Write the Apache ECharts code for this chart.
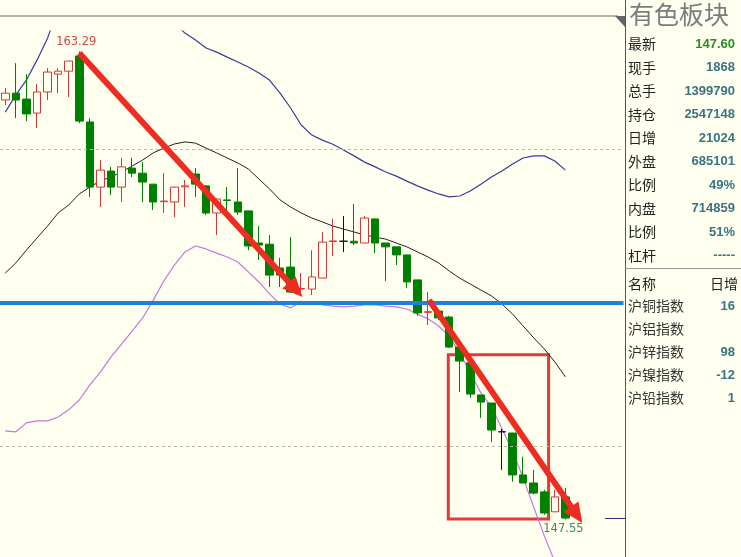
<!DOCTYPE html>
<html><head><meta charset="utf-8">
<script src="https://cdn.jsdelivr.net/npm/echarts@6/dist/echarts.min.js"></script>
<style>html,body{margin:0;padding:0;background:#FFFFF0;}#c{width:741px;height:557px;}</style>
</head><body><div id="c"></div>
<script>
// ---- candles: [open, close, lowest, highest]
const candles = [
[161.66,161.89,161.49,162.06],[161.89,161.66,161.05,162.90],[161.69,161.19,160.95,162.53],[161.22,161.93,160.72,162.20],
[161.93,162.60,161.66,162.73],[162.53,162.63,161.89,162.73],[162.63,162.97,161.76,162.97],[163.14,160.95,160.88,163.29],
[160.92,158.73,158.40,161.05],[158.73,159.30,158.06,159.64],[159.27,158.73,158.46,159.41],[158.73,159.41,158.23,159.71],
[159.37,159.20,159.07,159.71],[159.20,158.90,158.23,159.57],[158.83,158.23,157.96,158.83],[158.24,158.26,157.86,159.20],
[158.23,158.73,157.72,158.75],[158.74,158.77,158.06,158.97],[159.17,158.83,158.40,159.37],[158.77,157.86,157.79,158.80],
[157.86,158.33,157.12,158.33],[158.30,158.28,157.79,158.73],[158.23,157.89,157.79,159.37],[157.93,156.75,156.61,157.93],
[156.85,156.78,156.28,157.42],[156.81,155.77,155.37,157.12],[156.01,155.77,155.37,156.35],[156.04,155.20,155.17,157.05],
[155.30,155.32,155.10,155.84],[155.30,155.71,155.10,156.61],[155.67,156.88,155.67,157.22],[156.90,156.92,156.41,157.66],
[156.91,156.91,156.55,157.76],[156.91,156.85,156.78,158.16],[156.85,157.69,156.85,157.76],[157.66,156.85,156.51,157.66],
[156.85,156.72,155.57,156.85],[156.72,156.45,156.11,156.72],[156.45,155.54,155.34,156.45],[155.61,154.50,154.40,155.61],
[154.52,154.54,154.09,155.20],[154.56,154.33,154.26,154.63],[154.36,153.35,153.32,154.40],[153.35,152.88,151.84,153.35],
[152.82,151.77,151.64,152.85],[151.74,151.50,150.97,151.74],[151.47,150.56,150.16,151.47],[150.50,150.50,149.22,150.60],
[150.46,149.05,148.82,150.46],[149.05,148.78,148.78,149.66],[148.78,148.44,148.40,149.22],[148.48,147.77,147.71,148.55],
[147.81,148.31,147.81,148.55],[148.31,147.60,147.55,148.61]
];
// ---- Bollinger bands
const bollUpper = [161.25,161.83,162.33,163.00,163.74,164.72,165.02,165.42,165.39,165.36,165.12,165.02,164.99,164.95,164.82,164.52,164.25,163.91,163.68,163.41,163.27,163.10,162.94,162.77,162.57,162.33,161.89,161.39,160.82,160.48,160.31,160.17,159.98,159.78,159.57,159.41,159.24,159.10,158.93,158.77,158.63,158.50,158.40,158.43,158.60,158.83,159.07,159.27,159.51,159.71,159.78,159.78,159.61,159.30];
const bollMid = [155.84,156.18,156.61,157.02,157.42,157.86,158.13,158.50,158.73,158.94,159.07,159.24,159.44,159.64,159.88,160.04,160.18,160.25,160.21,160.04,159.88,159.71,159.54,159.34,159.00,158.67,158.30,158.06,157.86,157.69,157.56,157.42,157.32,157.22,157.12,157.05,156.98,156.85,156.72,156.55,156.38,156.18,155.91,155.67,155.47,155.27,155.07,154.80,154.46,154.06,153.66,153.29,152.85,152.35];
const bollLower = [150.53,150.50,150.80,150.87,150.87,151.00,151.24,151.57,152.08,152.51,153.02,153.45,153.89,154.33,154.93,155.57,156.11,156.55,156.75,156.65,156.51,156.38,156.21,155.88,155.54,155.14,154.80,154.67,154.87,154.87,154.77,154.73,154.70,154.73,154.77,154.77,154.73,154.70,154.63,154.46,154.30,154.06,153.72,153.15,152.48,151.81,151.34,150.60,149.86,148.95,147.97,147.00,146.13,145.18];
// ---- reference levels & annotations (index, price)
const gridLevels = [150, 160];
const supportLevel = 154.83;
const arrow1 = [[7.0, 163.24], [27.48, 155.28]];
const arrow2 = [[40.1, 154.93], [54.07, 147.71]];
const boxArea = [[41.92, 153.09], [51.41, 147.57]];
const emptySlots = 5;
// ---- side panel
const panelTitle = '有色板块';
const quoteLabels = ['最新','现手','总手','持仓','日增','外盘','比例','内盘','比例','杠杆'];
const quoteValues = ['147.60','1868','1399790','2547148','21024','685101','49%','714859','51%','-----'];
const indexHeader = ['名称','日增'];
const indexNames = ['沪铜指数','沪铝指数','沪锌指数','沪镍指数','沪铅指数'];
const indexValues = ['16','','98','-12','1'];

const categories = candles.map((_, i) => 'k' + i);
for (let i = 0; i < emptySlots; i++) categories.push('e' + i);
const N = categories.length;
const STEP = 10.65;

const RED = '#D03838', GREEN = '#008000', BG = '#FFFFF0', ARROW = '#EE2C22';

const candleData = candles.map(v => {
  const it = { value: v };
  if (v[0] === v[1]) it.itemStyle = { borderColor: '#111', borderColor0: '#111', color: '#111', color0: '#111' };
  return it;
});

const chart = echarts.init(document.getElementById('c'), null, { renderer: 'canvas' });

const graphics = [];
graphics.push({ type: 'line', shape: { x1: 0, y1: 16, x2: 618, y2: 16 }, style: { stroke: '#B4B4A2', lineWidth: 2 }, z: 100 });
graphics.push({ type: 'polygon', shape: { points: [[615, 16], [625, 16], [625, 27]] }, style: { fill: '#666' }, z: 100 });
graphics.push({ type: 'line', shape: { x1: 625.5, y1: 0, x2: 625.5, y2: 557 }, style: { stroke: '#555', lineWidth: 1 }, z: 100 });
graphics.push({ type: 'line', shape: { x1: 625, y1: 268.5, x2: 741, y2: 268.5 }, style: { stroke: '#999', lineWidth: 1 }, z: 100 });
graphics.push({ type: 'text', style: { text: panelTitle, x: 629, y: 14, font: '25px "Noto Sans CJK SC"', fill: '#7c7c7c', textAlign: 'left', textVerticalAlign: 'middle' }, z: 100 });
quoteLabels.forEach((t, i) => {
  const y = 44 + 23.5 * i;
  graphics.push({ type: 'text', style: { text: t, x: 628, y, font: '14px "Noto Sans CJK SC"', fill: '#222', textAlign: 'left', textVerticalAlign: 'middle' }, z: 100 });
  graphics.push({ type: 'text', style: { text: quoteValues[i], x: 735, y, font: 'bold 13px "Liberation Sans", Arial', fill: i === 0 ? '#2A8F1E' : '#3A7480', textAlign: 'right', textVerticalAlign: 'middle' }, z: 100 });
});
graphics.push({ type: 'text', style: { text: indexHeader[0], x: 628, y: 284, font: '14px "Noto Sans CJK SC"', fill: '#222', textAlign: 'left', textVerticalAlign: 'middle' }, z: 100 });
graphics.push({ type: 'text', style: { text: indexHeader[1], x: 710, y: 284, font: '14px "Noto Sans CJK SC"', fill: '#222', textAlign: 'left', textVerticalAlign: 'middle' }, z: 100 });
indexNames.forEach((t, i) => {
  const y = 306 + 23 * i;
  graphics.push({ type: 'text', style: { text: t, x: 628, y, font: '14px "Noto Sans CJK SC"', fill: '#333', textAlign: 'left', textVerticalAlign: 'middle' }, z: 100 });
  graphics.push({ type: 'text', style: { text: indexValues[i], x: 735, y, font: 'bold 13px "Liberation Sans", Arial', fill: '#3A7480', textAlign: 'right', textVerticalAlign: 'middle' }, z: 100 });
});

const option = {
  animation: false,
  backgroundColor: BG,
  grid: { left: 0.5 - STEP / 2, top: 31, width: STEP * N, height: 526, containLabel: false },
  xAxis: [
    { type: 'category', data: categories, boundaryGap: true, show: false },
    { type: 'value', min: -0.5, max: N - 0.5, show: false }
  ],
  yAxis: { type: 'value', min: 146.29, max: 163.98, show: false, splitLine: { show: false }, scale: true },
  series: [
    { type: 'line', name: 'UP', data: bollUpper, showSymbol: false, symbol: 'none', lineStyle: { color: '#3A3A9C', width: 1.2 }, z: 2 },
    { type: 'line', name: 'MID', data: bollMid, showSymbol: false, symbol: 'none', lineStyle: { color: '#222', width: 1 }, z: 2 },
    { type: 'line', name: 'DN', data: bollLower, showSymbol: false, symbol: 'none', lineStyle: { color: '#C478DA', width: 1.2 }, z: 2 },
    {
      type: 'candlestick', data: candleData, barWidth: 8, z: 3,
      itemStyle: { color: BG, color0: GREEN, borderColor: RED, borderColor0: GREEN, borderColorDoji: '#111', borderWidth: 1 },
      markPoint: {
        symbol: 'circle', symbolSize: 1, itemStyle: { color: 'rgba(0,0,0,0)' },
        label: { show: true, fontFamily: 'DejaVu Sans', fontSize: 11.5, formatter: p => Number(p.value).toFixed(2) },
        data: [
          { type: 'max', valueDim: 'highest', label: { position: 'top', distance: 3, color: '#D04848', offset: [-3, 0] } },
          { type: 'min', valueDim: 'lowest', label: { position: 'bottom', distance: 3, color: '#3A8A5C', offset: [-2, 0] } }
        ]
      }
    },
    {
      type: 'line', xAxisIndex: 1, data: [[0, 150]], showSymbol: false, symbol: 'none', lineStyle: { opacity: 0 }, z: 5, silent: true,
      markLine: {
        silent: true, symbol: 'none', label: { show: false },
        data: gridLevels.map(v => ({ yAxis: v, lineStyle: { color: '#B8B8A8', width: 1, type: [3, 3] } }))
          .concat([{ yAxis: supportLevel, lineStyle: { color: '#1E82DC', width: 4, type: 'solid' } }])
      },
      markArea: {
        silent: true,
        itemStyle: { color: 'rgba(0,0,0,0)', borderColor: '#E23A36', borderWidth: 3 },
        data: [[{ coord: boxArea[0] }, { coord: boxArea[1] }]]
      }
    },
    {
      type: 'line', xAxisIndex: 1, data: [[0, 150]], showSymbol: false, symbol: 'none', lineStyle: { opacity: 0 }, z: 10, silent: true,
      markLine: {
        silent: true, symbol: ['none', 'triangle'], symbolSize: [18, 20], label: { show: false },
        lineStyle: { color: ARROW, width: 6, type: 'solid' },
        itemStyle: { color: ARROW },
        data: [
          [{ coord: arrow1[0] }, { coord: arrow1[1] }],
          [{ coord: arrow2[0] }, { coord: arrow2[1] }]
        ]
      }
    }
  ],
  graphic: graphics
};
chart.setOption(option);
const lastClose = candles[candles.length - 1][1];
const py = Math.round(chart.convertToPixel({ yAxisIndex: 0 }, lastClose)) + 0.5;
chart.setOption({ graphic: graphics.concat([{ type: 'line', shape: { x1: 605, y1: py, x2: 625, y2: py }, style: { stroke: '#2C2C7A', lineWidth: 1 }, z: 100 }]) });
</script>
</body></html>
